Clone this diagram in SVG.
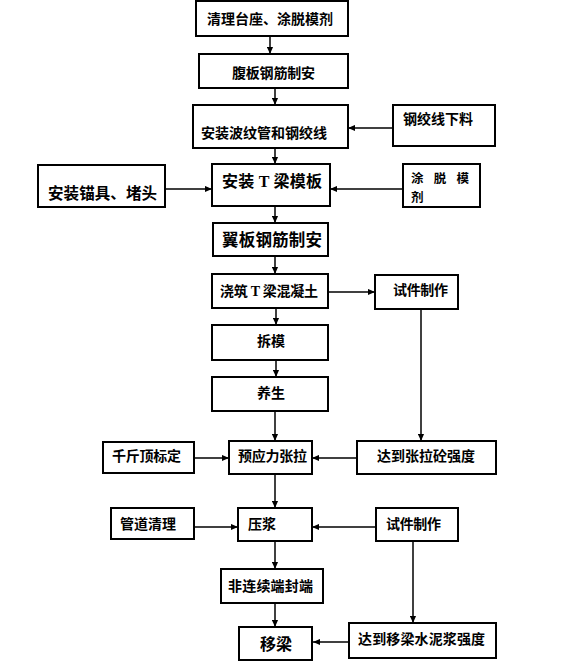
<svg xmlns="http://www.w3.org/2000/svg" width="584" height="667" viewBox="0 0 584 667">
<defs>
<marker id="ah" viewBox="0 0 8 8" refX="8" refY="4" markerWidth="7" markerHeight="7" markerUnits="userSpaceOnUse" orient="auto">
<path d="M0,0.5 L8,4 L0,7.5 Z" fill="#000"/>
</marker>
</defs>
<style>
rect{fill:#fff;stroke:#000;stroke-width:2}
text{font-family:"Noto Sans CJK SC","Liberation Sans",sans-serif;font-weight:bold;font-size:14px;fill:#000;dominant-baseline:central}
.t{font-family:"Liberation Serif","Noto Sans CJK SC",serif}
#connectors path{fill:none;stroke:#000;stroke-width:1.5;marker-end:url(#ah)}
</style>
<rect x="0" y="0" width="584" height="667" style="fill:#fff;stroke:none"/>
<g id="connectors">
<path d="M270,36 V54"/>
<path d="M275,88 V105"/>
<path d="M393,128 H348"/>
<path d="M275,148 V164"/>
<path d="M165,189 H212"/>
<path d="M403,189 H330"/>
<path d="M275,206 V223"/>
<path d="M275,256 V274"/>
<path d="M328,292 H375"/>
<path d="M276,308 V325"/>
<path d="M276,360 V377"/>
<path d="M275,411 V441"/>
<path d="M421,309 V441"/>
<path d="M194,458 H229"/>
<path d="M357,458 H312"/>
<path d="M275,474 V508"/>
<path d="M194,527 H238"/>
<path d="M376,527 H312"/>
<path d="M275,541 V569"/>
<path d="M413,541 V623"/>
<path d="M275,603 V627"/>
<path d="M349,642 H313"/>
</g>
<g id="n1"><rect x="196" y="1" width="152" height="35"/><text x="207" y="18" textLength="126">清理台座、涂脱模剂</text></g>
<g id="n2"><rect x="199" y="54" width="149" height="34"/><text x="232" y="72" textLength="83">腹板钢筋制安</text></g>
<g id="n3"><rect x="193" y="105" width="155" height="43"/><text x="201" y="132" textLength="126">安装波纹管和钢绞线</text></g>
<g id="n4"><rect x="393" y="105" width="102" height="41"/><text x="403" y="118" textLength="70">钢绞线下料</text></g>
<g id="n5"><rect x="38" y="165" width="127" height="42"/><text x="48" y="192" style="font-size:15.5px" textLength="109">安装锚具、堵头</text></g>
<g id="n6"><rect x="212" y="164" width="118" height="42"/><text class="t" x="222" y="181" style="font-size:16px" textLength="100">安装 T 梁模板</text></g>
<g id="n7"><rect x="403" y="164" width="77" height="43"/><text x="411" y="177" style="font-size:12.5px"><tspan textLength="58">涂 脱 模</tspan><tspan x="411" dy="19">剂</tspan></text></g>
<g id="n8"><rect x="213" y="223" width="115" height="33"/><text x="222" y="239" style="font-size:16.5px" textLength="100">翼板钢筋制安</text></g>
<g id="n9"><rect x="212" y="274" width="116" height="34"/><text class="t" x="220" y="291" textLength="98">浇筑 T 梁混凝土</text></g>
<g id="n10"><rect x="375" y="275" width="83" height="34"/><text x="393" y="289" textLength="55">试件制作</text></g>
<g id="n11"><rect x="212" y="325" width="116" height="35"/><text x="257" y="340" textLength="28">拆模</text></g>
<g id="n12"><rect x="212" y="377" width="116" height="34"/><text x="257" y="392" textLength="28">养生</text></g>
<g id="n13"><rect x="103" y="442" width="91" height="31"/><text x="112" y="455" textLength="69">千斤顶标定</text></g>
<g id="n14"><rect x="229" y="441" width="83" height="33"/><text x="238" y="455" textLength="69">预应力张拉</text></g>
<g id="n15"><rect x="357" y="441" width="139" height="33"/><text x="377" y="455" textLength="98">达到张拉砼强度</text></g>
<g id="n16"><rect x="111" y="508" width="83" height="31"/><text x="120" y="523" textLength="56">管道清理</text></g>
<g id="n17"><rect x="238" y="508" width="74" height="33"/><text x="248" y="523" textLength="28">压浆</text></g>
<g id="n18"><rect x="376" y="508" width="82" height="33"/><text x="386" y="523" textLength="55">试件制作</text></g>
<g id="n19"><rect x="221" y="569" width="102" height="34"/><text x="228" y="585" textLength="85">非连续端封端</text></g>
<g id="n20"><rect x="239" y="627" width="73" height="33"/><text x="260" y="643" style="font-size:16px" textLength="32">移梁</text></g>
<g id="n21"><rect x="349" y="623" width="147" height="35"/><text x="358" y="638" textLength="127">达到移梁水泥浆强度</text></g>
</svg>
